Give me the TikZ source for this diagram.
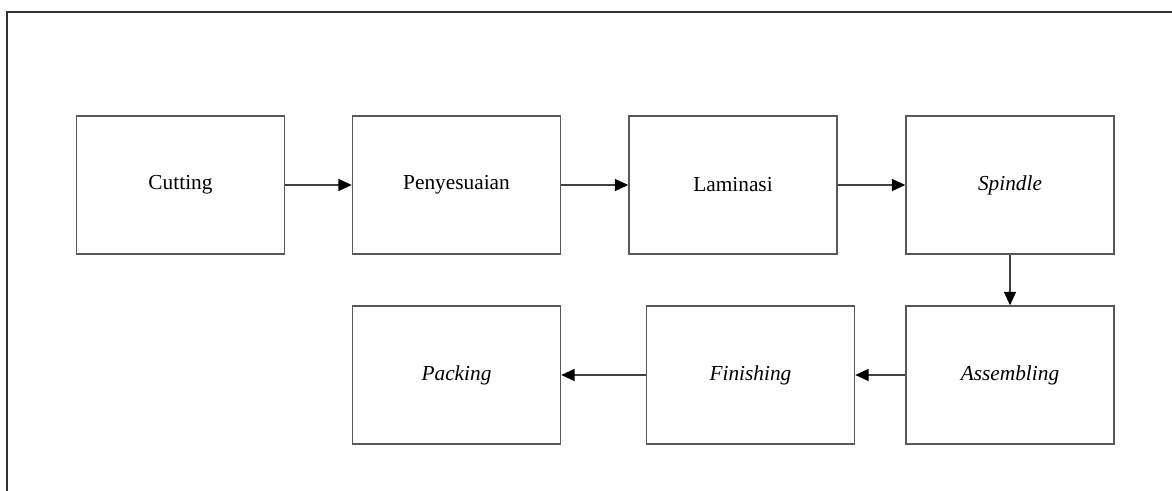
\documentclass[tikz,border=0pt]{standalone}
\usepackage{fontspec}
\setmainfont{Liberation Serif}
\usetikzlibrary{arrows.meta}
\begin{document}
\begin{tikzpicture}[x=0.75pt,y=-0.75pt,
  stepbox/.style={draw=black!65,line width=1.1pt,minimum width=156pt,minimum height=103.5pt,inner sep=0pt,font=\fontsize{16}{19}\selectfont},
  flow/.style={draw=black!75,line width=1pt,-{Triangle[length=10pt,width=9pt,fill=black,color=black]}}]
\useasboundingbox (0,0) rectangle (1172,491);
% outer frame: top and left edges only
\draw[black!80,line width=1.3pt] (1172,12) -- (7,12) -- (7,491);
% first row
\node[stepbox] (cut) at (180.5,185) {Cutting};
\node[stepbox] (pen) at (456.5,185) {Penyesuaian};
\node[stepbox] (lam) at (733,185) {Laminasi};
\node[stepbox] (spi) at (1010,185) {\textit{Spindle}};
% second row
\node[stepbox] (pac) at (456.5,375) {\textit{Packing}};
\node[stepbox] (fin) at (750.5,375) {\textit{Finishing}};
\node[stepbox] (ass) at (1010,375) {\textit{Assembling}};
% connectors
\draw[flow] (cut) -- (pen);
\draw[flow] (pen) -- (lam);
\draw[flow] (lam) -- (spi);
\draw[flow] (spi) -- (ass);
\draw[flow] (ass) -- (fin);
\draw[flow] (fin) -- (pac);
\end{tikzpicture}
\end{document}
